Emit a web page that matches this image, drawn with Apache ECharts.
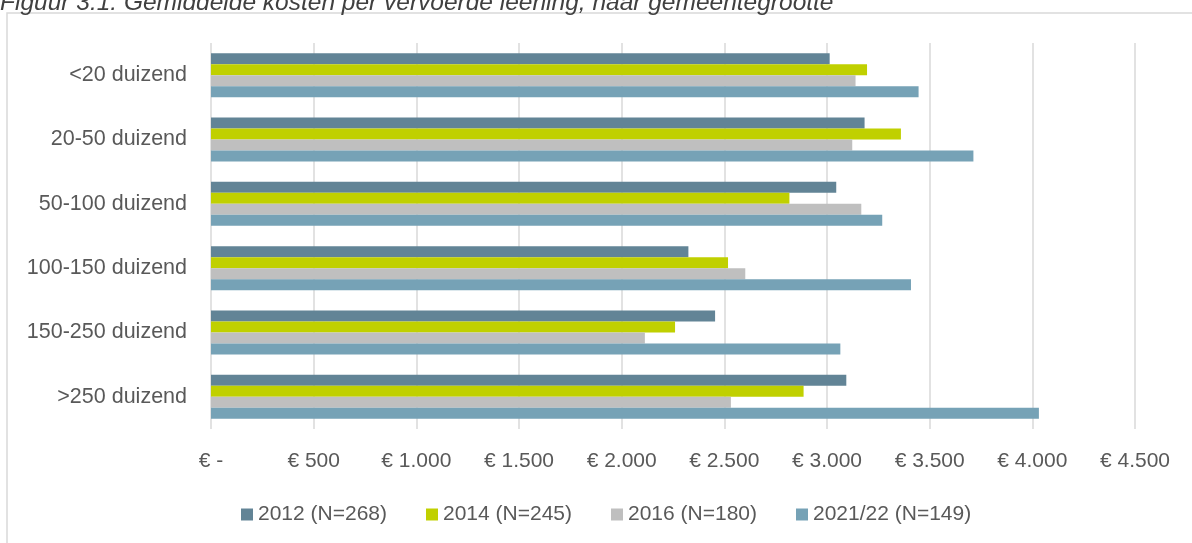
<!DOCTYPE html>
<html>
<head>
<meta charset="utf-8">
<script src="https://cdn.jsdelivr.net/npm/echarts@6/dist/echarts.min.js"></script>
<style>
  html, body { margin: 0; padding: 0; background: #fff; }
  #chart { width: 1192px; height: 543px; }
</style>
</head>
<body>
<div id="chart"></div>
<script>
// gemeentegrootte, van boven naar beneden
const categories = ["<20 duizend", "20-50 duizend", "50-100 duizend", "100-150 duizend", "150-250 duizend", ">250 duizend"]

// gemiddelde kosten per vervoerde leerling (euro)
const kosten2012 = [3013, 3183, 3045, 2325, 2455, 3094]
const kosten2014 = [3195, 3360, 2817, 2518, 2260, 2886]
const kosten2016 = [3139, 3123, 3167, 2602, 2113, 2532]
const kosten2021 = [3446, 3713, 3269, 3409, 3065, 4032]

const seriesNames = ["2012 (N=268)", "2014 (N=245)", "2016 (N=180)", "2021/22 (N=149)"]
const seriesColors = ["#628496", "#c0d000", "#bfbfbf", "#76a2b6"]

const titleText = "Figuur 3.1: Gemiddelde kosten per vervoerde leerling, naar gemeentegrootte"

const font = "Liberation Sans"
const textColor = "#595959"

const chart = echarts.init(document.getElementById("chart"))

// euro-notatie zoals in het origineel
const euro = (v) => v === 0 ? "€ -" : "€ " + v.toLocaleString("nl-NL")

const makeBar = (name, data, color) => ({
  name: name,
  type: "bar",
  data: data,
  barGap: "0%",
  barCategoryGap: "31.6%",
  itemStyle: { color: color }
})

chart.setOption({
  animation: false,
  backgroundColor: "#fff",
  textStyle: { fontFamily: font },
  graphic: [
    {
      type: "rect",
      shape: { x: 7, y: 13, width: 1300, height: 700 },
      style: { fill: "none", stroke: "#d9d9d9", lineWidth: 1.5 },
      silent: true
    },
    {
      type: "text",
      left: 0,
      top: -9,
      style: {
        text: titleText,
        font: "italic 24.5px '" + font + "'",
        fill: "#404040"
      }
    }
  ],
  legend: {
    data: seriesNames,
    left: 236,
    top: 499,
    icon: "rect",
    itemWidth: 12,
    itemHeight: 12,
    itemGap: 39,
    textStyle: { color: textColor, fontSize: 21, fontFamily: font }
  },
  grid: {
    left: 211,
    right: 57,
    top: 43,
    bottom: 114,
    containLabel: false
  },
  xAxis: {
    type: "value",
    min: 0,
    max: 4500,
    interval: 500,
    axisLine: { show: false },
    axisTick: { show: false },
    splitLine: { show: true, lineStyle: { color: "#d9d9d9", width: 1.5 } },
    axisLabel: {
      color: textColor,
      fontSize: 21,
      fontFamily: font,
      margin: 22,
      formatter: euro
    }
  },
  yAxis: {
    type: "category",
    data: categories,
    inverse: true,
    axisLine: { show: false },
    axisTick: { show: false },
    splitLine: { show: false },
    axisLabel: {
      color: textColor,
      fontSize: 21.5,
      fontFamily: font,
      margin: 24
    }
  },
  series: [
    makeBar(seriesNames[0], kosten2012, seriesColors[0]),
    makeBar(seriesNames[1], kosten2014, seriesColors[1]),
    makeBar(seriesNames[2], kosten2016, seriesColors[2]),
    makeBar(seriesNames[3], kosten2021, seriesColors[3])
  ]
})
</script>
</body>
</html>
